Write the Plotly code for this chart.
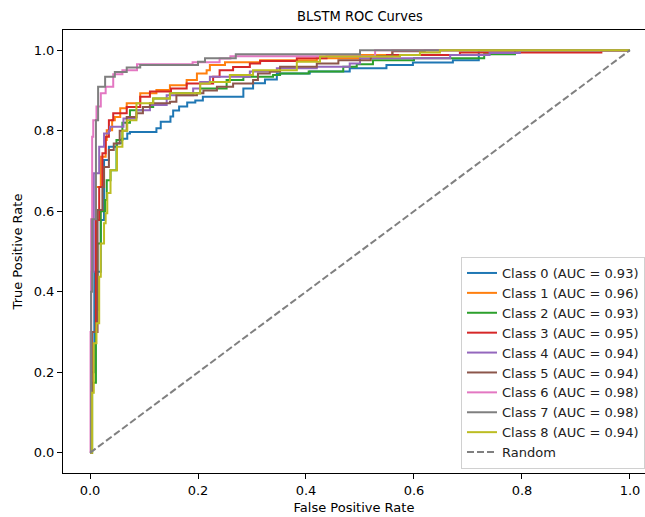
import plotly.graph_objects as go

# ROC points per class (fpr, tpr)
class_names = [f"Class {i}" for i in range(9)]
auc_values = [0.93, 0.96, 0.93, 0.95, 0.94, 0.94, 0.98, 0.98, 0.94]
colors = ["#1f77b4", "#ff7f0e", "#2ca02c", "#d62728", "#9467bd",
          "#8c564b", "#e377c2", "#7f7f7f", "#bcbd22"]

fpr_0 = [0, 0.002, 0.008, 0.02, 0.026, 0.035, 0.05, 0.059, 0.069, 0.074, 0.123, 0.131, 0.149, 0.154, 0.165,
         0.18, 0.195, 0.209, 0.284, 0.302, 0.324, 0.346, 0.407, 0.481, 0.549, 0.598, 0.672, 0.72, 1.0]
tpr_0 = [0, 0.2, 0.45, 0.578, 0.727, 0.76, 0.769, 0.78, 0.793, 0.797, 0.806, 0.822, 0.835, 0.85, 0.86,
         0.87, 0.875, 0.884, 0.905, 0.918, 0.927, 0.942, 0.947, 0.955, 0.963, 0.969, 0.975, 1.0, 1.0]

fpr_1 = [0, 0.003, 0.011, 0.02, 0.029, 0.031, 0.041, 0.046, 0.056, 0.068, 0.093, 0.123, 0.148, 0.179,
         0.198, 0.216, 0.222, 0.25, 0.315, 0.42, 0.5, 0.56, 1.0]
tpr_1 = [0, 0.3, 0.66, 0.735, 0.777, 0.801, 0.826, 0.834, 0.856, 0.868, 0.893, 0.901, 0.913, 0.926,
         0.942, 0.95, 0.963, 0.97, 0.975, 0.98, 0.988, 1.0, 1.0]

fpr_2 = [0, 0.004, 0.011, 0.014, 0.02, 0.028, 0.031, 0.038, 0.049, 0.06, 0.074, 0.098, 0.117, 0.148,
         0.204, 0.253, 0.284, 0.339, 0.352, 0.405, 0.469, 0.494, 0.524, 0.6, 0.73, 0.787, 1.0]
tpr_2 = [0, 0.174, 0.355, 0.52, 0.6, 0.628, 0.677, 0.702, 0.777, 0.82, 0.851, 0.859, 0.88, 0.893,
         0.905, 0.926, 0.934, 0.938, 0.942, 0.947, 0.959, 0.965, 0.975, 0.98, 0.99, 1.0, 1.0]

fpr_3 = [0, 0.003, 0.011, 0.017, 0.023, 0.029, 0.035, 0.043, 0.068, 0.093, 0.111, 0.15, 0.179, 0.228,
         0.24, 0.265, 0.296, 0.315, 0.383, 0.438, 0.55, 0.685, 0.947, 1.0]
tpr_3 = [0, 0.3, 0.578, 0.66, 0.744, 0.785, 0.826, 0.843, 0.859, 0.884, 0.897, 0.905, 0.917, 0.934,
         0.95, 0.958, 0.967, 0.973, 0.98, 0.985, 0.988, 0.994, 1.0, 1.0]

fpr_4 = [0, 0.002, 0.007, 0.017, 0.026, 0.035, 0.037, 0.062, 0.086, 0.111, 0.142, 0.191, 0.204, 0.222,
         0.296, 0.346, 0.42, 0.481, 0.5, 0.667, 0.74, 0.796, 1.0]
tpr_4 = [0, 0.45, 0.694, 0.76, 0.793, 0.8, 0.81, 0.83, 0.851, 0.864, 0.888, 0.905, 0.921, 0.934,
         0.947, 0.955, 0.959, 0.967, 0.98, 0.988, 0.993, 1.0, 1.0]

fpr_5 = [0, 0.003, 0.014, 0.023, 0.026, 0.035, 0.044, 0.055, 0.068, 0.086, 0.098, 0.111, 0.148, 0.16,
         0.198, 0.21, 0.235, 0.265, 0.302, 0.311, 0.333, 0.352, 0.42, 0.46, 0.52, 0.56, 0.62, 1.0]
tpr_5 = [0, 0.3, 0.603, 0.66, 0.71, 0.752, 0.768, 0.8, 0.834, 0.843, 0.859, 0.868, 0.872, 0.888,
         0.893, 0.9, 0.909, 0.917, 0.926, 0.942, 0.947, 0.959, 0.967, 0.975, 0.985, 0.997, 1.0, 1.0]

fpr_6 = [0, 0.001, 0.002, 0.004, 0.006, 0.012, 0.02, 0.029, 0.043, 0.06, 0.087, 0.19, 0.24, 0.26,
         0.528, 1.0]
tpr_6 = [0, 0.3, 0.58, 0.785, 0.826, 0.86, 0.893, 0.909, 0.94, 0.95, 0.965, 0.97, 0.979, 0.985,
         1.0, 1.0]

fpr_7 = [0, 0.002, 0.004, 0.011, 0.015, 0.028, 0.046, 0.068, 0.093, 0.2, 0.213, 0.27, 0.5, 1.0]
tpr_7 = [0, 0.4, 0.58, 0.826, 0.909, 0.934, 0.946, 0.957, 0.963, 0.971, 0.98, 0.99, 1.0, 1.0]

fpr_8 = [0, 0.004, 0.007, 0.012, 0.017, 0.02, 0.026, 0.029, 0.032, 0.038, 0.05, 0.06, 0.069, 0.086,
         0.117, 0.148, 0.204, 0.222, 0.259, 0.302, 0.383, 0.426, 0.574, 0.611, 0.648, 1.0]
tpr_8 = [0, 0.149, 0.272, 0.322, 0.437, 0.52, 0.57, 0.595, 0.645, 0.702, 0.76, 0.8, 0.826, 0.868,
         0.88, 0.893, 0.917, 0.921, 0.938, 0.95, 0.971, 0.984, 0.988, 0.994, 1.0, 1.0]

fprs = [fpr_0, fpr_1, fpr_2, fpr_3, fpr_4, fpr_5, fpr_6, fpr_7, fpr_8]
tprs = [tpr_0, tpr_1, tpr_2, tpr_3, tpr_4, tpr_5, tpr_6, tpr_7, tpr_8]

random_x = [0, 1]
random_y = [0, 1]

tick_vals = [0.0, 0.2, 0.4, 0.6, 0.8, 1.0]

FONT = "DejaVu Sans"
TITLE_FONT = "DejaVu Sans Condensed, DejaVu Sans"

fig = go.Figure()

for name, auc, color, fx, ty in zip(class_names, auc_values, colors, fprs, tprs):
    fig.add_trace(go.Scatter(
        x=fx, y=ty, mode="lines",
        line=dict(color=color, width=2, shape="hv"),
        name=f"{name} (AUC = {auc:.2f})"
    ))

fig.add_trace(go.Scatter(
    x=random_x, y=random_y, mode="lines",
    line=dict(color="gray", width=2, dash="7px,3px"),
    name="Random"
))

fig.update_layout(
    width=645, height=517,
    margin=dict(l=63, r=0, t=30, b=44),
    paper_bgcolor="white", plot_bgcolor="white",
    font=dict(family=FONT, size=13, color="black"),
    title=dict(text="BLSTM ROC Curves", x=0.558, xanchor="center",
               y=1 - 16 / 517, yanchor="middle", yref="container",
               font=dict(family=TITLE_FONT, size=14.5, color="black")),
    legend=dict(
        x=1.0, y=0.009, xanchor="right", yanchor="bottom",
        bgcolor="rgba(255,255,255,0.8)", bordercolor="#d0d0d0", borderwidth=1,
        font=dict(family=FONT, size=13, color="#222"),
        tracegroupgap=0
    ),
)

fig.update_xaxes(
    range=[-0.05, 1.0278], tickvals=tick_vals, tickformat=".1f",
    showgrid=False, zeroline=False,
    showline=True, linecolor="black", linewidth=1, mirror=True,
    ticks="outside", ticklen=5, tickcolor="black",
    title=dict(text="False Positive Rate", standoff=6, font=dict(family=FONT, size=13))
)
fig.update_yaxes(
    range=[-0.05, 1.05], tickvals=tick_vals, tickformat=".1f",
    showgrid=False, zeroline=False,
    showline=True, linecolor="black", linewidth=1,
    ticks="outside", ticklen=5, tickcolor="black",
    title=dict(text="True Positive Rate", standoff=8, font=dict(family=FONT, size=13))
)

# the page's default body margin would push the 645x517 figure off-screen
fig.write_html(
    "out.html",
    config={"displayModeBar": False},
    post_script="document.body.style.margin='0';document.body.style.overflow='hidden';"
)
